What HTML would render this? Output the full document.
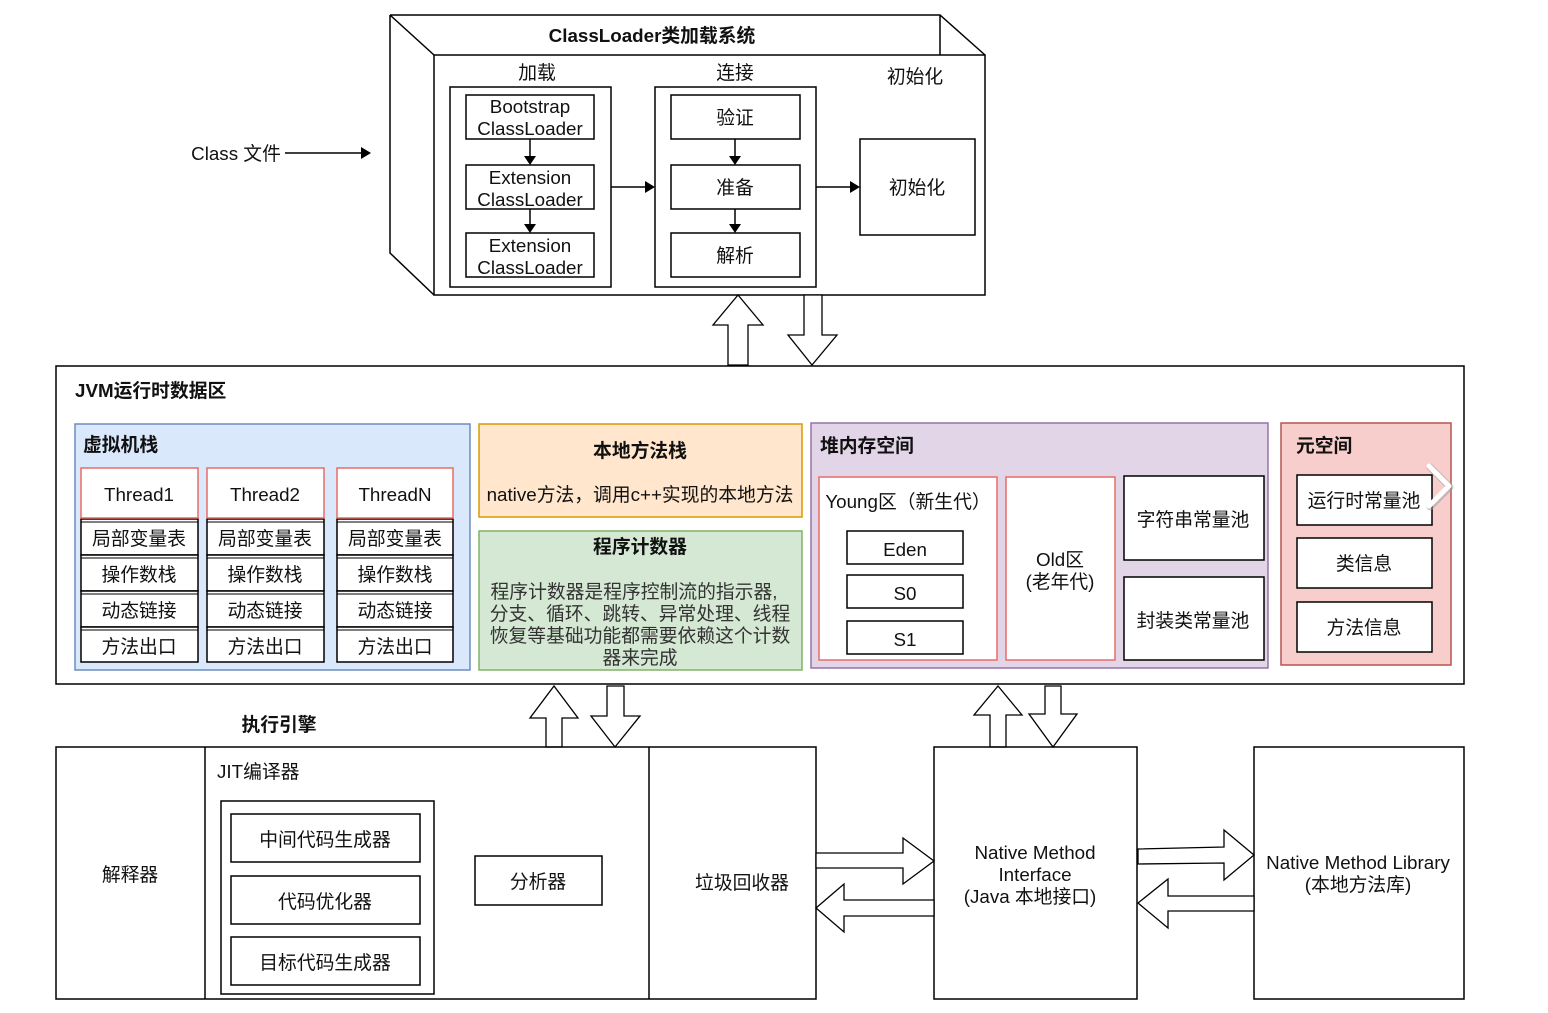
<!DOCTYPE html>
<html><head><meta charset="utf-8"><style>
html,body{margin:0;padding:0;background:#fff;}
svg{display:block;}
text{font-family:"Liberation Sans","Noto Sans CJK SC",sans-serif;font-size:18.8px;fill:#111;}
.b{font-weight:bold;}
.c{text-anchor:middle;}
</style></head><body>
<svg width="1548" height="1013" viewBox="0 0 1548 1013" xmlns="http://www.w3.org/2000/svg">
<g fill="none" stroke="#000" stroke-width="1.5">
<path d="M390,15 L940,15 L985,55 M390,15 L434,55 M390,15 L390,253 L434,295 M940,15 L940,55" />
<rect x="434" y="55" width="551" height="240" fill="#fff"/>
<rect x="450" y="87" width="161" height="200"/>
<rect x="466" y="95" width="128" height="44"/>
<rect x="466" y="165" width="128" height="44"/>
<rect x="466" y="233" width="128" height="44"/>
<rect x="655" y="87" width="161" height="200"/>
<rect x="671" y="95" width="129" height="44"/>
<rect x="671" y="165" width="129" height="44"/>
<rect x="671" y="233" width="129" height="44"/>
<rect x="860" y="139" width="115" height="96"/>
<path d="M530,139 V160 M530,209 V228 M735,139 V160 M735,209 V228 M611,187 H648 M816,187 H853 M285,153 H364"/>
</g>
<g fill="#000">
<path d="M524,156 L530,165 L536,156 Z M524,224 L530,233 L536,224 Z M729,156 L735,165 L741,156 Z M729,224 L735,233 L741,224 Z M645,181 L655,187 L645,193 Z M850,181 L860,187 L850,193 Z M361,147 L371,153 L361,159 Z"/>
</g>
<text x="652" y="42" class="b c">ClassLoader类加载系统</text>
<text x="537" y="79" class="c">加载</text>
<text x="735" y="79" class="c">连接</text>
<text x="915" y="83" class="c">初始化</text>
<text x="530" y="113" class="c">Bootstrap</text><text x="530" y="135" class="c">ClassLoader</text>
<text x="530" y="184" class="c">Extension</text><text x="530" y="206" class="c">ClassLoader</text>
<text x="530" y="252" class="c">Extension</text><text x="530" y="274" class="c">ClassLoader</text>
<text x="735" y="124" class="c">验证</text>
<text x="735" y="194" class="c">准备</text>
<text x="735" y="262" class="c">解析</text>
<text x="917" y="194" class="c">初始化</text>
<text x="236" y="160" class="c">Class 文件</text>

<g fill="#fff" stroke="#000" stroke-width="1.3">
<path d="M728,365 V325 H713 L738,295 L763,325 H748 V365 Z"/>
<path d="M804,295 V335 H788 L812,365 L837,335 H822 V295 Z"/>
<path d="M546,747 V718 H530 L554,686 L578,718 H562 V747 Z"/>
<path d="M607,686 V716 H591 L615,747 L640,716 H624 V686 Z"/>
<path d="M990,747 V715 H974 L998,686 L1022,715 H1006 V747 Z"/>
<path d="M1045,686 V714 H1029 L1053,747 L1077,714 H1061 V686 Z"/>
</g>

<rect x="56" y="366" width="1408" height="318" fill="#fff" stroke="#000" stroke-width="1.5"/>
<text x="75" y="397" class="b">JVM运行时数据区</text>
<rect x="75" y="424" width="395" height="246" fill="#dae8fc" stroke="#6c8ebf" stroke-width="1.5"/>
<text x="83" y="451" class="b">虚拟机栈</text>
<g stroke-width="1.5">
<g fill="#fff" stroke="#000">
<rect x="81" y="519" width="117" height="36"/><rect x="81" y="555" width="117" height="36"/><rect x="81" y="591" width="117" height="36"/><rect x="81" y="627" width="117" height="35"/>
<rect x="207" y="519" width="117" height="36"/><rect x="207" y="555" width="117" height="36"/><rect x="207" y="591" width="117" height="36"/><rect x="207" y="627" width="117" height="35"/>
<rect x="337" y="519" width="116" height="36"/><rect x="337" y="555" width="116" height="36"/><rect x="337" y="591" width="116" height="36"/><rect x="337" y="627" width="116" height="35"/>
</g>
<g stroke="#000" stroke-width="1">
<path d="M81,522 H198 M81,558 H198 M81,594 H198 M81,630 H198 M207,522 H324 M207,558 H324 M207,594 H324 M207,630 H324 M337,522 H453 M337,558 H453 M337,594 H453 M337,630 H453"/>
</g>
<g fill="#fff" stroke="#ea6b66">
<rect x="81" y="468" width="117" height="50"/><rect x="207" y="468" width="117" height="50"/><rect x="337" y="468" width="116" height="50"/>
</g>
</g>
<text x="139" y="501" class="c">Thread1</text><text x="265" y="501" class="c">Thread2</text><text x="395" y="501" class="c">ThreadN</text>
<text x="139" y="545" class="c">局部变量表</text><text x="265" y="545" class="c">局部变量表</text><text x="395" y="545" class="c">局部变量表</text>
<text x="139" y="581" class="c">操作数栈</text><text x="265" y="581" class="c">操作数栈</text><text x="395" y="581" class="c">操作数栈</text>
<text x="139" y="617" class="c">动态链接</text><text x="265" y="617" class="c">动态链接</text><text x="395" y="617" class="c">动态链接</text>
<text x="139" y="653" class="c">方法出口</text><text x="265" y="653" class="c">方法出口</text><text x="395" y="653" class="c">方法出口</text>

<rect x="479" y="424" width="323" height="93" fill="#ffe6cc" stroke="#d79b00" stroke-width="1.5"/>
<text x="640" y="457" class="b c">本地方法栈</text>
<text x="640" y="501" class="c">native方法，调用c++实现的本地方法</text>
<rect x="479" y="531" width="323" height="139" fill="#d5e8d4" stroke="#82b366" stroke-width="1.5"/>
<text x="640" y="553" class="b c">程序计数器</text>
<text x="634" y="598" class="c" style="fill:#333">程序计数器是程序控制流的指示器,</text>
<text x="640" y="620" class="c" style="fill:#333">分支、循环、跳转、异常处理、线程</text>
<text x="640" y="642" class="c" style="fill:#333">恢复等基础功能都需要依赖这个计数</text>
<text x="640" y="664" class="c" style="fill:#333">器来完成</text>

<rect x="811" y="423" width="457" height="245" fill="#e1d5e7" stroke="#9673a6" stroke-width="1.5"/>
<text x="820" y="452" class="b">堆内存空间</text>
<g stroke-width="1.5">
<rect x="819" y="477" width="178" height="183" fill="#fff" stroke="#ea6b66"/>
<rect x="1006" y="477" width="109" height="183" fill="#fff" stroke="#ea6b66"/>
<g fill="#fff" stroke="#000">
<rect x="847" y="531" width="116" height="33"/>
<rect x="847" y="575" width="116" height="33"/>
<rect x="847" y="621" width="116" height="33"/>
<rect x="1124" y="476" width="140" height="84"/>
<rect x="1124" y="577" width="140" height="83"/>
</g>
</g>
<text x="908" y="508" class="c">Young区（新生代）</text>
<text x="905" y="556" class="c">Eden</text>
<text x="905" y="600" class="c">S0</text>
<text x="905" y="646" class="c">S1</text>
<text x="1060" y="566" class="c">Old区</text>
<text x="1060" y="588" class="c">(老年代)</text>
<text x="1193" y="526" class="c">字符串常量池</text>
<text x="1193" y="627" class="c">封装类常量池</text>

<rect x="1281" y="423" width="170" height="242" fill="#f8cecc" stroke="#b85450" stroke-width="1.5"/>
<text x="1296" y="452" class="b">元空间</text>
<g fill="#fff" stroke="#000" stroke-width="1.5">
<rect x="1297" y="475" width="135" height="50"/>
<rect x="1297" y="538" width="135" height="50"/>
<rect x="1297" y="602" width="135" height="50"/>
</g>
<text x="1364" y="507" class="c">运行时常量池</text>
<text x="1364" y="570" class="c">类信息</text>
<text x="1364" y="634" class="c">方法信息</text>
<path d="M1430,467 L1450,487 L1430,507" fill="none" stroke="#999" stroke-width="7" stroke-linecap="round" stroke-linejoin="round" opacity="0.5"/>
<path d="M1429,466 L1449,486 L1429,506" fill="none" stroke="#fff" stroke-width="5" stroke-linecap="round" stroke-linejoin="round"/>

<text x="279" y="731" class="b c">执行引擎</text>
<g fill="none" stroke="#000" stroke-width="1.5">
<rect x="56" y="747" width="760" height="252"/>
<path d="M205,747 V999 M649,747 V999"/>
<rect x="221" y="801" width="213" height="193"/>
<rect x="231" y="814" width="189" height="48"/>
<rect x="231" y="876" width="189" height="48"/>
<rect x="231" y="937" width="189" height="48"/>
<rect x="475" y="856" width="127" height="49"/>
<rect x="934" y="747" width="203" height="252"/>
<rect x="1254" y="747" width="210" height="252"/>
</g>
<text x="130" y="881" class="c">解释器</text>
<text x="217" y="778">JIT编译器</text>
<text x="325" y="846" class="c">中间代码生成器</text>
<text x="325" y="908" class="c">代码优化器</text>
<text x="325" y="969" class="c">目标代码生成器</text>
<text x="538" y="888" class="c">分析器</text>
<text x="742" y="889" class="c">垃圾回收器</text>
<text x="1035" y="859" class="c">Native Method</text>
<text x="1035" y="881" class="c">Interface</text>
<text x="1030" y="903" class="c">(Java 本地接口)</text>
<text x="1358" y="869" class="c">Native Method Library</text>
<text x="1358" y="891" class="c">(本地方法库)</text>

<g fill="#fff" stroke="#000" stroke-width="1.3">
<path d="M816,853 H903 V838 L934,861 L903,884 V868 H816 Z"/>
<path d="M934,900 H844 V884 L816,908 L844,932 V916 H934 Z"/>
<path d="M1138,849 L1224,847 V830 L1254,855 L1224,880 V863 L1138,864 Z"/>
<path d="M1254,896 H1168 V879 L1138,903 L1168,928 V911 H1254 Z"/>
</g>
</svg>
</body></html>
